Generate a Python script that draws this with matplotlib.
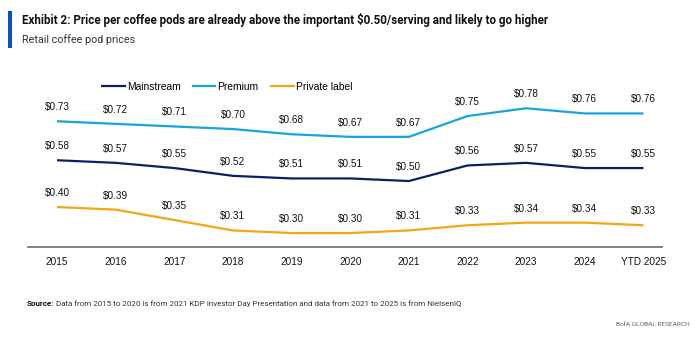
import matplotlib
matplotlib.use("Agg")
import matplotlib.pyplot as plt
from matplotlib.patches import Rectangle

# retail coffee pod prices, $ per serving
years = ["2015", "2016", "2017", "2018", "2019", "2020", "2021", "2022", "2023", "2024", "YTD 2025"]
mainstream = [0.58, 0.57, 0.55, 0.52, 0.51, 0.51, 0.50, 0.56, 0.57, 0.55, 0.55]
premium = [0.73, 0.72, 0.71, 0.70, 0.68, 0.67, 0.67, 0.75, 0.78, 0.76, 0.76]
private_label = [0.40, 0.39, 0.35, 0.31, 0.30, 0.30, 0.31, 0.33, 0.34, 0.34, 0.33]

series = [
    ("Mainstream", mainstream, "#0c1f66"),
    ("Premium", premium, "#1aa3df"),
    ("Private label", private_label, "#f3a712"),
]

plt.rcParams["font.family"] = ["Liberation Sans", "DejaVu Sans"]
W, H = 700, 338

fig = plt.figure(figsize=(7, 3.38), dpi=100)
ax = fig.add_axes([0.04, 0.269, 0.906, 0.503])

x = list(range(len(years)))
for name, vals, col in series:
    ax.plot(x, vals, color=col, lw=1.6, label=name, solid_capstyle="butt")
    for xi, v in zip(x, vals):
        ax.annotate(f"${v:.2f}", (xi, v), xytext=(0, 6.5), textcoords="offset points",
                    ha="center", va="bottom", fontsize=7.2, color="#111111")

ax.set_xlim(-0.495, 10.32)
ax.set_ylim(0.246, 0.90)
ax.set_xticks(x)
ax.set_xticklabels(years, fontsize=7.2, color="#111111")
ax.set_yticks([])
for s in ["top", "right", "left"]:
    ax.spines[s].set_visible(False)
ax.spines["bottom"].set_color("#6b6b6b")
ax.spines["bottom"].set_linewidth(1.2)
ax.tick_params(axis="x", length=0, pad=7)

fig.legend(loc="center left", bbox_to_anchor=(101 / W, 1 - 87 / H), ncol=3, frameon=False,
           fontsize=7.4, handlelength=2.4, handletextpad=0.1, columnspacing=1.1,
           borderpad=0, borderaxespad=0)

# header
fig.patches.append(Rectangle((8 / W, 1 - 48 / H), 4 / W, 37 / H,
                             transform=fig.transFigure, color="#0a4fc4", lw=0))
title = fig.text(22 / W, 1 - 20 / H,
                 "Exhibit 2: Price per coffee pods are already above the important $0.50/serving and likely to go higher",
                 fontsize=8.6, fontweight="bold", family="Roboto", va="center", color="#111111")
sub = fig.text(22 / W, 1 - 40 / H, "Retail coffee pod prices", fontsize=8.6,
               family="Roboto", va="center", color="#333333")

# footer
src = fig.text(27 / W, 1 - 304 / H, "Source:", fontsize=6.2, fontweight="bold",
               family="Roboto", va="center", color="#111111")
src_txt = ax.annotate(" Data from 2015 to 2020 is from 2021 KDP Investor Day Presentation and data from 2021 to 2025 is from NielsenIQ",
                      xy=(1, 0.5), xycoords=src, va="center", ha="left", fontsize=6.2,
                      family="Roboto", color="#333333", annotation_clip=False)
brand = fig.text(690 / W, 1 - 324 / H, "BofA GLOBAL RESEARCH", fontsize=6.4, family="Roboto",
                 ha="right", va="center", color="#666666")

# shrink the header/footer text so each line spans its set width
renderer = fig.canvas.get_renderer()
for t, width in [(title, 525), (sub, 112), (brand, 74)]:
    w = t.get_window_extent(renderer).width
    t.set_fontsize(t.get_fontsize() * width / w)
w = src.get_window_extent(renderer).width + src_txt.get_window_extent(renderer).width
scale = 440 / w
src.set_fontsize(src.get_fontsize() * scale)
src_txt.set_fontsize(src_txt.get_fontsize() * scale)

fig.savefig("out.png", dpi=100)
